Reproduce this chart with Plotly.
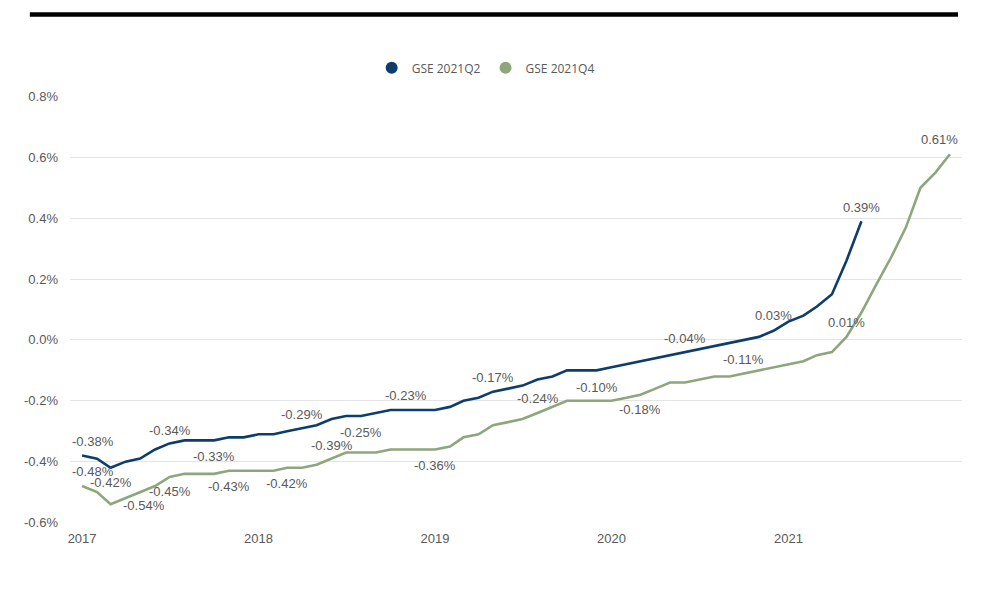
import pandas as pd
import plotly.graph_objects as go

# ---- data (values in %) ----
series_names = ["GSE 2021Q2", "GSE 2021Q4"]
start_month = "2017-01-01"

gse_2021q2 = [
    -0.38, -0.39, -0.42, -0.40, -0.39, -0.36, -0.34, -0.33, -0.33, -0.33, -0.32, -0.32,
    -0.31, -0.31, -0.30, -0.29, -0.28, -0.26, -0.25, -0.25, -0.24, -0.23, -0.23, -0.23,
    -0.23, -0.22, -0.20, -0.19, -0.17, -0.16, -0.15, -0.13, -0.12, -0.10, -0.10, -0.10,
    -0.09, -0.08, -0.07, -0.06, -0.05, -0.04, -0.03, -0.02, -0.01, 0.00, 0.01, 0.03,
    0.06, 0.08, 0.11, 0.15, 0.26, 0.39,
]
gse_2021q4 = [
    -0.48, -0.50, -0.54, -0.52, -0.50, -0.48, -0.45, -0.44, -0.44, -0.44, -0.43, -0.43,
    -0.43, -0.43, -0.42, -0.42, -0.41, -0.39, -0.37, -0.37, -0.37, -0.36, -0.36, -0.36,
    -0.36, -0.35, -0.32, -0.31, -0.28, -0.27, -0.26, -0.24, -0.22, -0.20, -0.20, -0.20,
    -0.20, -0.19, -0.18, -0.16, -0.14, -0.14, -0.13, -0.12, -0.12, -0.11, -0.10, -0.09,
    -0.08, -0.07, -0.05, -0.04, 0.01, 0.09, 0.18, 0.27, 0.37, 0.50, 0.55, 0.61,
]

# indices of points carrying a data label
q2_label_idx = [0, 2, 6, 9, 15, 19, 22, 28, 35, 41, 47, 53]
q4_label_idx = [0, 2, 6, 10, 14, 17, 24, 31, 38, 45, 52, 59]

y_tick_vals = [-0.6, -0.4, -0.2, 0.0, 0.2, 0.4, 0.6, 0.8]

# ---- styling / placement (not data) ----
colors = ["#0f3d6b", "#8da67c"]
q2_offsets = {0: (11, 14), 2: (0, -15), 6: (0, 13), 9: (0, -16), 15: (0, 14), 19: (0, -16),
              22: (0, 14), 28: (0, 14), 35: (0, -17), 41: (0, 14), 47: (0, 15), 53: (0, 14)}
q4_offsets = {0: (11, 15), 2: (33, -1), 6: (0, -15), 10: (0, -16), 14: (0, -16), 17: (0, 13),
              24: (0, -16), 31: (0, 14), 38: (0, -15), 45: (0, 14), 52: (0, 14), 59: (-10, 15)}

text_color = "#595959"
label_font = dict(family="Liberation Sans, Arial, sans-serif", size=13, color=text_color)

dates_q2 = pd.date_range(start_month, periods=len(gse_2021q2), freq="MS")
dates_q4 = pd.date_range(start_month, periods=len(gse_2021q4), freq="MS")

fig = go.Figure()
fig.add_trace(go.Scatter(x=dates_q2, y=gse_2021q2, mode="lines", name=series_names[0],
                         line=dict(color=colors[0], width=2.6), showlegend=False))
fig.add_trace(go.Scatter(x=dates_q4, y=gse_2021q4, mode="lines", name=series_names[1],
                         line=dict(color=colors[1], width=2.6), showlegend=False))
# legend entries drawn as circles
for name, c in zip(series_names, colors):
    fig.add_trace(go.Scatter(x=[None], y=[None], mode="markers", name=name,
                             marker=dict(color=c, size=12, symbol="circle")))

annotations = []
for dates, vals, idxs, offs in [(dates_q2, gse_2021q2, q2_label_idx, q2_offsets),
                                (dates_q4, gse_2021q4, q4_label_idx, q4_offsets)]:
    for i in idxs:
        dx, dy = offs[i]
        annotations.append(dict(x=dates[i], y=vals[i], text=f"{vals[i]:.2f}%",
                                showarrow=False, xshift=dx, yshift=dy,
                                xanchor="center", yanchor="middle", font=label_font))

fig.update_layout(
    width=1000, height=590,
    margin=dict(l=70, r=38, t=96, b=67),
    paper_bgcolor="white", plot_bgcolor="white",
    font=label_font,
    annotations=annotations,
    legend=dict(orientation="h", x=0.466, xanchor="center", y=1.066, yanchor="middle",
                font=dict(family="Open Sans, sans-serif", size=12, color=text_color),
                itemwidth=30, tracegroupgap=0, bgcolor="rgba(0,0,0,0)"),
    shapes=[dict(type="line", xref="paper", yref="paper", x0=-0.045, x1=0.9955,
                 y0=1.191, y1=1.191, line=dict(color="black", width=4.5))],
    showlegend=True,
)
fig.update_xaxes(
    range=["2016-12-07", "2021-12-26"], type="date",
    tickformat="%Y", dtick="M12", tick0="2017-01-01",
    showgrid=False, showline=False, zeroline=False,
    ticks="", tickfont=label_font, ticklabelstandoff=6,
)
fig.update_yaxes(
    range=[-0.6015, 0.8015], tickvals=y_tick_vals,
    ticktext=[f"{v:.1f}%" for v in y_tick_vals],
    showgrid=True, gridcolor="#e4e4e4", gridwidth=1,
    zeroline=False, showline=False, ticks="", tickfont=label_font,
    ticklabelstandoff=11,
)

fig.write_html("out.html", config={"displayModeBar": False},
               post_script="document.body.style.margin='0';")
